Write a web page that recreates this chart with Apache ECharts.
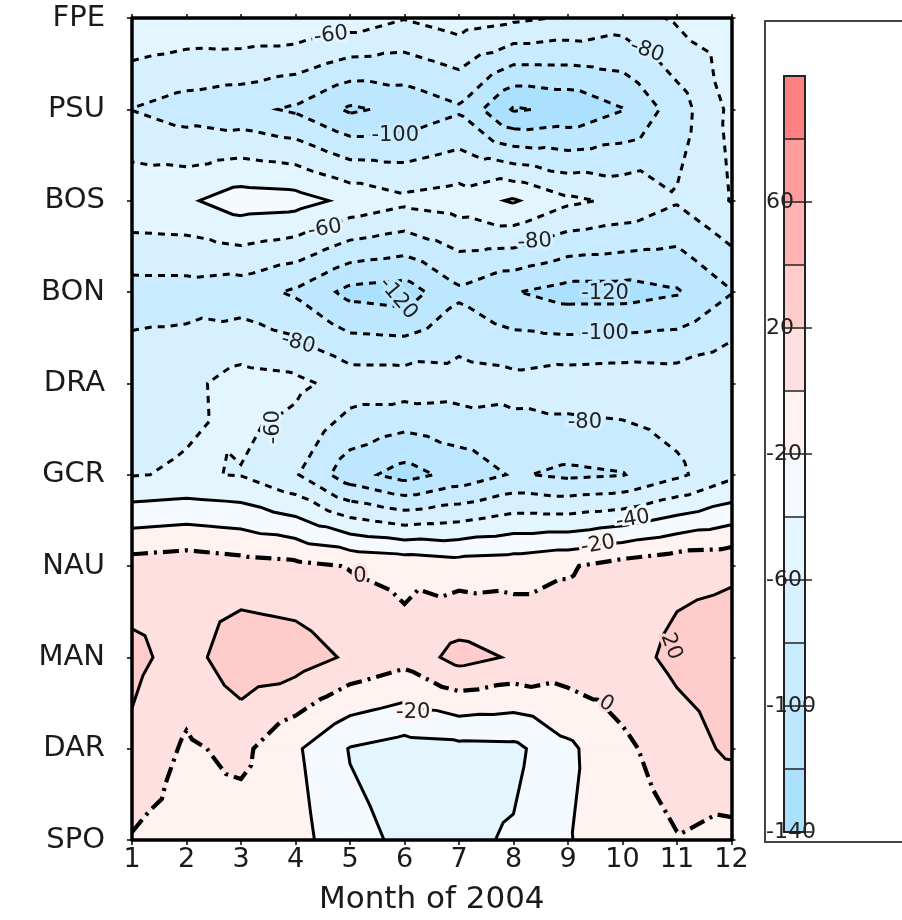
<!DOCTYPE html>
<html><head><meta charset="utf-8">
<script src="https://cdn.jsdelivr.net/npm/echarts@6/dist/echarts.min.js"></script>
<style>html,body{margin:0;padding:0;background:#fff}#c{width:902px;height:920px}</style>
</head><body><div id="c"></div>
<script>
// ---------------- data ----------------
const months = [1,2,3,4,5,6,7,8,9,10,11,12];
const stations = ['SPO','DAR','MAN','NAU','GCR','DRA','BON','BOS','PSU','FPE']; // bottom -> top
const rowFPE = [-42, -45, -43, -43, -48, -59, -50, -56, -62, -70, -57, -50];
const rowPSU = [-80.5, -89, -94, -103, -123, -115, -103, -142, -136, -121, -90, -55];
const rowBOS = [-45, -43, -30, -32, -45, -55, -50, -38, -56, -64, -78, -59];
const rowBON = [-88, -88, -91, -103, -126, -130, -104, -119, -128, -128, -122, -101];
const rowDRA = [-69, -65, -52, -55, -68, -68, -70, -73, -68, -66, -68, -62];
const rowGCR = [-61, -58, -61, -78, -112, -128, -113, -98, -104, -101, -84, -65];
const rowNAU = [9, 12, 8, 5, -1, -5, -10, -8, -2, 8, 15, 17];
const rowMAN = [25, 12, 33, 30, 17, 7, 27, 18, 12, 12, 25, 30];
const rowDAR = [16, -3, 5, -17, -41, -48, -46, -45, -24, -4, 10, 24];
const rowSPO = [-1.5, -8, -10, -12, -35, -43, -44, -38, -21, -10, -1, -8];

const levels = [-140,-120,-100,-80,-60,-40,-20,0,20,40,60,80,100];
const bandColors = ['#ABE0FF','#BDE6FF','#C9EBFF','#D6F0FF','#E3F5FF','#F4FAFF',
                    '#FFF3F1','#FFE0E0','#FFCCCC','#FFB3B3','#FF9C9C','#FF8080'];
const lineLevels = [-140,-120,-100,-80,-60,-40,-20,0,20,40,60,80];
const colorbarTicks = [-140,-100,-60,-20,20,60];
const colorbarSeparators = [80,40,0,-40,-80,-120];
// contour labels: [month, station index, text, rotation(deg, ccw)]
const contourLabels = [
  [4.65,8.81,'-60',8],[5.83,7.71,'-100',0],[10.45,8.64,'-80',-20],
  [4.54,6.69,'-60',10],[8.39,6.55,'-80',4],[5.88,5.93,'-120',-50],
  [9.68,5.98,'-120',0],[4.05,5.44,'-80',-15],[9.68,5.55,'-100',0],
  [3.59,4.52,'-60',90],[9.31,4.57,'-80',0],[10.19,3.51,'-40',10],
  [9.55,3.23,'-20',10],[5.18,2.88,'0',0],[10.89,2.12,'20',-70],
  [6.16,1.40,'-20',0],[9.70,1.49,'0',-30]
];

const grid = [rowSPO,rowDAR,rowMAN,rowNAU,rowGCR,rowDRA,rowBON,rowBOS,rowPSU,rowFPE];

// ---------------- geometry (data space) ----------------
function buildTris(){
  const tris=[];
  for(let j=0;j<stations.length-1;j++){
    for(let i=0;i<months.length-1;i++){
      const A={id:'g'+i+'_'+j,x:months[i],y:j,v:grid[j][i]};
      const B={id:'g'+(i+1)+'_'+j,x:months[i+1],y:j,v:grid[j][i+1]};
      const C={id:'g'+(i+1)+'_'+(j+1),x:months[i+1],y:j+1,v:grid[j+1][i+1]};
      const D={id:'g'+i+'_'+(j+1),x:months[i],y:j+1,v:grid[j+1][i]};
      const E={id:'c'+i+'_'+j,x:(A.x+B.x)/2,y:j+0.5,v:(A.v+B.v+C.v+D.v)/4};
      tris.push([A,B,E],[B,C,E],[C,D,E],[D,A,E]);
    }
  }
  return tris;
}
function clip(poly,level,keepAbove){
  const out=[];
  for(let k=0;k<poly.length;k++){
    const P=poly[k],Q=poly[(k+1)%poly.length];
    const pin=keepAbove?P.v>=level:P.v<=level;
    const qin=keepAbove?Q.v>=level:Q.v<=level;
    if(pin) out.push(P);
    if(pin!==qin){
      const t=(level-P.v)/(Q.v-P.v);
      out.push({x:P.x+t*(Q.x-P.x),y:P.y+t*(Q.y-P.y),v:level});
    }
  }
  return out;
}
function contourLines(tris,L){
  const pts={},segs=[],adj={};
  tris.forEach(tr=>{
    const cross=[];
    for(let k=0;k<3;k++){
      const P=tr[k],Q=tr[(k+1)%3];
      if((P.v>=L)!==(Q.v>=L)){
        const key=P.id<Q.id?P.id+'|'+Q.id:Q.id+'|'+P.id;
        if(!pts[key]){const t=(L-P.v)/(Q.v-P.v);pts[key]=[P.x+t*(Q.x-P.x),P.y+t*(Q.y-P.y)];}
        cross.push(key);
      }
    }
    if(cross.length===2) segs.push(cross);
  });
  segs.forEach((s,idx)=>s.forEach(k=>{(adj[k]=adj[k]||[]).push(idx);}));
  const used=new Array(segs.length).fill(false),lines=[];
  const order=[];
  segs.forEach((s,idx)=>{ if(adj[s[0]].length===1||adj[s[1]].length===1) order.push(idx); });
  segs.forEach((s,idx)=>order.push(idx));
  order.forEach(s=>{
    if(used[s]) return;
    used[s]=true;
    const chain=[segs[s][0],segs[s][1]];
    if(adj[segs[s][1]].length===1){chain.reverse();}
    const extend=(end)=>{
      while(true){
        const k=end?chain[chain.length-1]:chain[0];
        const nxt=(adj[k]||[]).find(i=>!used[i]);
        if(nxt===undefined) break;
        used[nxt]=true;
        const other=segs[nxt][0]===k?segs[nxt][1]:segs[nxt][0];
        if(end) chain.push(other); else chain.unshift(other);
      }
    };
    extend(true); extend(false);
    lines.push(chain.map(k=>pts[k]));
  });
  return lines;
}
const tris=buildTris();
const bandPolys=[];
for(let b=0;b<bandColors.length;b++){
  const lo=levels[b],hi=levels[b+1];
  tris.forEach(tr=>{
    let p=tr.slice();
    if(b>0) p=clip(p,lo,true);
    if(p.length>=3 && b<bandColors.length-1) p=clip(p,hi,false);
    if(p.length>=3) bandPolys.push({b:b,pts:p.map(q=>[q.x,q.y])});
  });
}
const contourSet=lineLevels.map(L=>({L:L,lines:contourLines(tris,L)}));

function lineStyleFor(L){
  if(L===0) return {stroke:'#000',lineWidth:4.2,lineDash:[16,6,3,6],fill:null};
  if(L<=-60) return {stroke:'#000',lineWidth:3,lineDash:[7,6],fill:null};
  return {stroke:'#000',lineWidth:3,fill:null};
}
function haloFor(text){
  const v=parseFloat(text);
  const idx=Math.max(0,Math.min(bandColors.length-1,Math.round((v-levels[0])/20)));
  return bandColors[idx];
}

const FONT='DejaVu Sans';
const chart=echarts.init(document.getElementById('c'),null,{renderer:'canvas'});
const option={
  animation:false,
  backgroundColor:'#fff',
  grid:[
    {left:132,top:18,width:599.5,height:826},
    {left:784,top:76,width:21,height:756}
  ],
  xAxis:[
    {type:'value',gridIndex:0,min:1,max:12,interval:1,position:'bottom',z:10,
     axisLine:{show:true,onZero:false,lineStyle:{color:'#000',width:3.5}},
     axisTick:{show:true,inside:false,length:5,lineStyle:{color:'#000',width:1.5}},
     axisLabel:{show:true,margin:6,color:'#1a1a1a',fontSize:27,fontFamily:FONT},
     splitLine:{show:false},
     name:'Month of 2004',nameLocation:'middle',nameGap:44,
     nameTextStyle:{color:'#1a1a1a',fontSize:31,fontFamily:FONT}},
    {type:'value',gridIndex:0,min:1,max:12,interval:1,position:'top',z:10,
     axisLine:{show:true,onZero:false,lineStyle:{color:'#000',width:3.5}},
     axisTick:{show:true,inside:false,length:4,lineStyle:{color:'#000',width:1.5}},
     axisLabel:{show:false},splitLine:{show:false}},
    {type:'value',gridIndex:1,min:0,max:1,show:false}
  ],
  yAxis:[
    {type:'value',gridIndex:0,min:0,max:9,interval:1,position:'left',z:10,
     axisLine:{show:true,onZero:false,lineStyle:{color:'#000',width:3.5}},
     axisTick:{show:true,inside:false,length:5,lineStyle:{color:'#000',width:1.5}},
     axisLabel:{show:true,margin:27,color:'#1a1a1a',fontSize:29,fontFamily:FONT,
       formatter:v=>stations[Math.round(v)]||''},
     splitLine:{show:false}},
    {type:'value',gridIndex:0,min:0,max:9,interval:1,position:'right',z:10,
     axisLine:{show:true,onZero:false,lineStyle:{color:'#000',width:3.5}},
     axisTick:{show:true,inside:false,length:4,lineStyle:{color:'#000',width:1.5}},
     axisLabel:{show:false},splitLine:{show:false}},
    {type:'value',gridIndex:1,min:-140,max:100,interval:20,position:'left',z:10,
     axisLine:{show:false},axisTick:{show:false},splitLine:{show:false},
     axisLabel:{show:true,margin:18,align:'left',color:'#222',fontSize:22,fontFamily:FONT,
       formatter:v=>(colorbarTicks.indexOf(v)>=0?String(v):'')}}
  ],
  graphic:[
    {type:'rect',shape:{x:765,y:21,width:160,height:821},
     style:{fill:null,stroke:'#444',lineWidth:2},z:0}
  ],
  series:[
    {type:'custom',xAxisIndex:0,yAxisIndex:0,data:[[1,0]],clip:true,z:2,silent:true,
     renderItem:(params,api)=>{
       const children=[];
       bandPolys.forEach(p=>{
         const c=bandColors[p.b];
         children.push({type:'polygon',shape:{points:p.pts.map(q=>api.coord(q))},
           style:{fill:c,stroke:c,lineWidth:0.8}});
       });
       contourSet.forEach(cs=>{
         cs.lines.forEach(ln=>{
           children.push({type:'polyline',shape:{points:ln.map(q=>api.coord(q))},
             style:lineStyleFor(cs.L)});
         });
       });
       contourLabels.forEach(l=>{
         const p=api.coord([l[0],l[1]]);
         children.push({type:'text',x:p[0],y:p[1],rotation:l[3]*Math.PI/180,
           style:{text:l[2],fill:'#222',stroke:haloFor(l[2]),lineWidth:6,
             fontSize:21,fontFamily:FONT,align:'center',verticalAlign:'middle'}});
       });
       return {type:'group',children:children};
     }},
    {type:'custom',xAxisIndex:2,yAxisIndex:2,data:[[0,0]],clip:false,z:2,silent:true,
     renderItem:(params,api)=>{
       const children=[];
       for(let b=0;b<bandColors.length;b++){
         const p0=api.coord([0,levels[b]]),p1=api.coord([1,levels[b+1]]);
         children.push({type:'rect',shape:{x:p0[0],y:p1[1],width:p1[0]-p0[0],height:p0[1]-p1[1]},
           style:{fill:bandColors[b]}});
       }
       colorbarSeparators.forEach(v=>{
         const a=api.coord([0,v]),b=api.coord([1,v]);
         children.push({type:'line',shape:{x1:a[0],y1:a[1],x2:b[0],y2:b[1]},style:{stroke:'#222',lineWidth:1.5}});
       });
       const t0=api.coord([0,levels[levels.length-1]]),t1=api.coord([1,levels[0]]);
       children.push({type:'rect',shape:{x:t0[0],y:t0[1],width:t1[0]-t0[0],height:t1[1]-t0[1]},
         style:{fill:null,stroke:'#222',lineWidth:2}});
       colorbarTicks.forEach(v=>{
         const a=api.coord([0,v]),b=api.coord([1,v]);
         children.push({type:'line',shape:{x1:a[0],y1:a[1],x2:b[0]+7,y2:b[1]},style:{stroke:'#222',lineWidth:1.5}});
       });
       return {type:'group',children:children};
     }}
  ]
};
chart.setOption(option);
</script></body></html>
